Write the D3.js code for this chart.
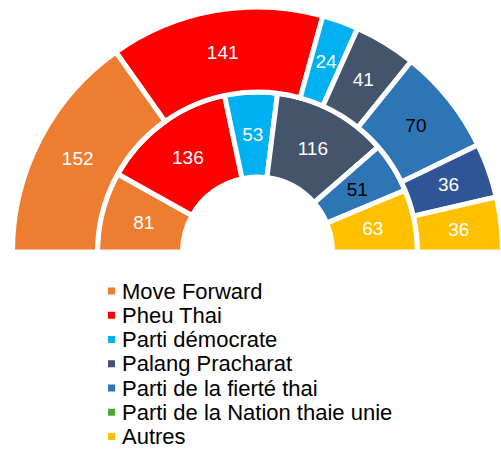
<!DOCTYPE html>
<html>
<head>
<meta charset="utf-8">
<script src="https://cdn.jsdelivr.net/npm/d3@7"></script>
<style>
  html, body { margin: 0; padding: 0; background: #fff; }
  svg { display: block; font-family: "Liberation Sans", Arial, sans-serif; }
</style>
</head>
<body>
<svg id="chart" width="501" height="449"></svg>
<script>
// ---- Data ----
const categories = ["Move Forward", "Pheu Thai", "Parti démocrate", "Palang Pracharat",
                    "Parti de la fierté thai", "Parti de la Nation thaie unie", "Autres"];
const innerValues = [81, 136, 53, 116, 51, 0, 63];
const outerValues = [152, 141, 24, 41, 70, 36, 36];
const categoryColors = ["#ED7D31", "#FF0000", "#00B0F0", "#44546A", "#2E75B6", "#4EA72E", "#FFC000"];
const outerColors = ["#ED7D31", "#FF0000", "#00B0F0", "#44546A", "#2E75B6", "#2F5597", "#FFC000"];
const darkLabelIdx = [4]; // "Parti de la fierté thai" labels drawn in black

// ---- Layout ----
const svg = d3.select("#chart");
const cx = 257.5, cy = 252;
const r0 = 75, r1 = 160, r2 = 245;

const pie = d3.pie().sort(null).value(d => d)
  .startAngle(-Math.PI / 2).endAngle(Math.PI / 2);

const g = svg.append("g").attr("transform", `translate(${cx},${cy})`);

function drawRing(values, colors, inner, outer) {
  const arc = d3.arc().innerRadius(inner).outerRadius(outer);
  const arcs = pie(values);
  const ring = g.append("g");
  ring.selectAll("path").data(arcs.filter(d => d.data > 0)).join("path")
    .attr("d", arc)
    .attr("fill", d => colors[d.index])
    .attr("stroke", "#fff")
    .attr("stroke-width", 5)
    .attr("stroke-linejoin", "miter");
  ring.selectAll("text").data(arcs.filter(d => d.data > 0)).join("text")
    .attr("transform", d => `translate(${arc.centroid(d)})`)
    .attr("text-anchor", "middle")
    .attr("dominant-baseline", "central")
    .attr("font-size", 19)
    .attr("fill", d => darkLabelIdx.includes(d.index) ? "#000" : "#fff")
    .text(d => d.data);
}

drawRing(innerValues, categoryColors, r0, r1);
drawRing(outerValues, outerColors, r1, r2);

// ---- Legend ----
const legend = svg.append("g").attr("transform", "translate(108,298.5)");
const item = legend.selectAll("g").data(categories).join("g")
  .attr("transform", (d, i) => `translate(0,${i * 24.25})`);
item.append("rect")
  .attr("x", 0).attr("y", -11).attr("width", 7).attr("height", 7)
  .attr("fill", (d, i) => categoryColors[i]);
item.append("text")
  .attr("x", 14).attr("y", 0)
  .attr("font-size", 22)
  .attr("fill", "#000")
  .text(d => d);
</script>
</body>
</html>
